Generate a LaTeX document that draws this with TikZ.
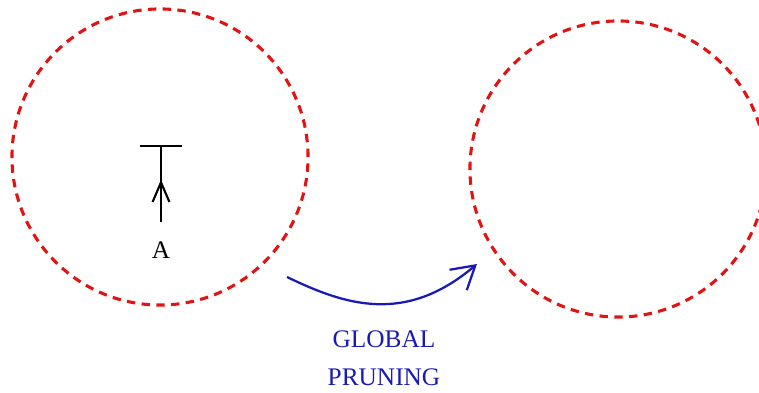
\documentclass[tikz,border=0pt]{standalone}
\usepackage{fontspec}
\setmainfont{Liberation Serif}
\usetikzlibrary{arrows.meta,decorations.markings}
\definecolor{ringred}{RGB}{225,20,20}
\definecolor{pruneblue}{RGB}{25,25,180}
\tikzset{
  ring/.style={draw=ringred, circle, line width=2.2pt,
               dash pattern=on 6pt off 4.5pt, minimum size=7.4cm, inner sep=0pt},
  parr/.style={-{Straight Barb[length=16pt,width=19pt]}, line width=1.6pt,
               draw=pruneblue},
  stem/.style={-{Bar[width=30pt]}, line width=1.5pt, postaction={decorate},
               decoration={markings, mark=at position 0.55 with
               {\arrow{Straight Barb[length=14pt,width=12pt]}}}},
  lbl/.style={font=\fontsize{18}{27}\selectfont, inner sep=0pt},
}

\begin{document}
\begin{tikzpicture}[x=0.025cm, y=-0.025cm]
\useasboundingbox (0,0) rectangle (759,393);
\node[ring] (before) at (160,157) {};
\node[ring] (after)  at (618,169) {};
\node[lbl] (a) at (161,250) {A};
\coordinate (foot) at (161,222);
\coordinate (head) at (161,145);
\draw[stem] (foot) -- (head);
\coordinate (src) at (287,277);
\coordinate (dst) at (477,264);
\draw[parr] (src) .. controls (345,305) and (405,325) .. (dst);
\node[lbl, text=pruneblue, align=center, anchor=north] (prune) at (384,330)
  {GLOBAL\\PRUNING};
\end{tikzpicture}
\end{document}
